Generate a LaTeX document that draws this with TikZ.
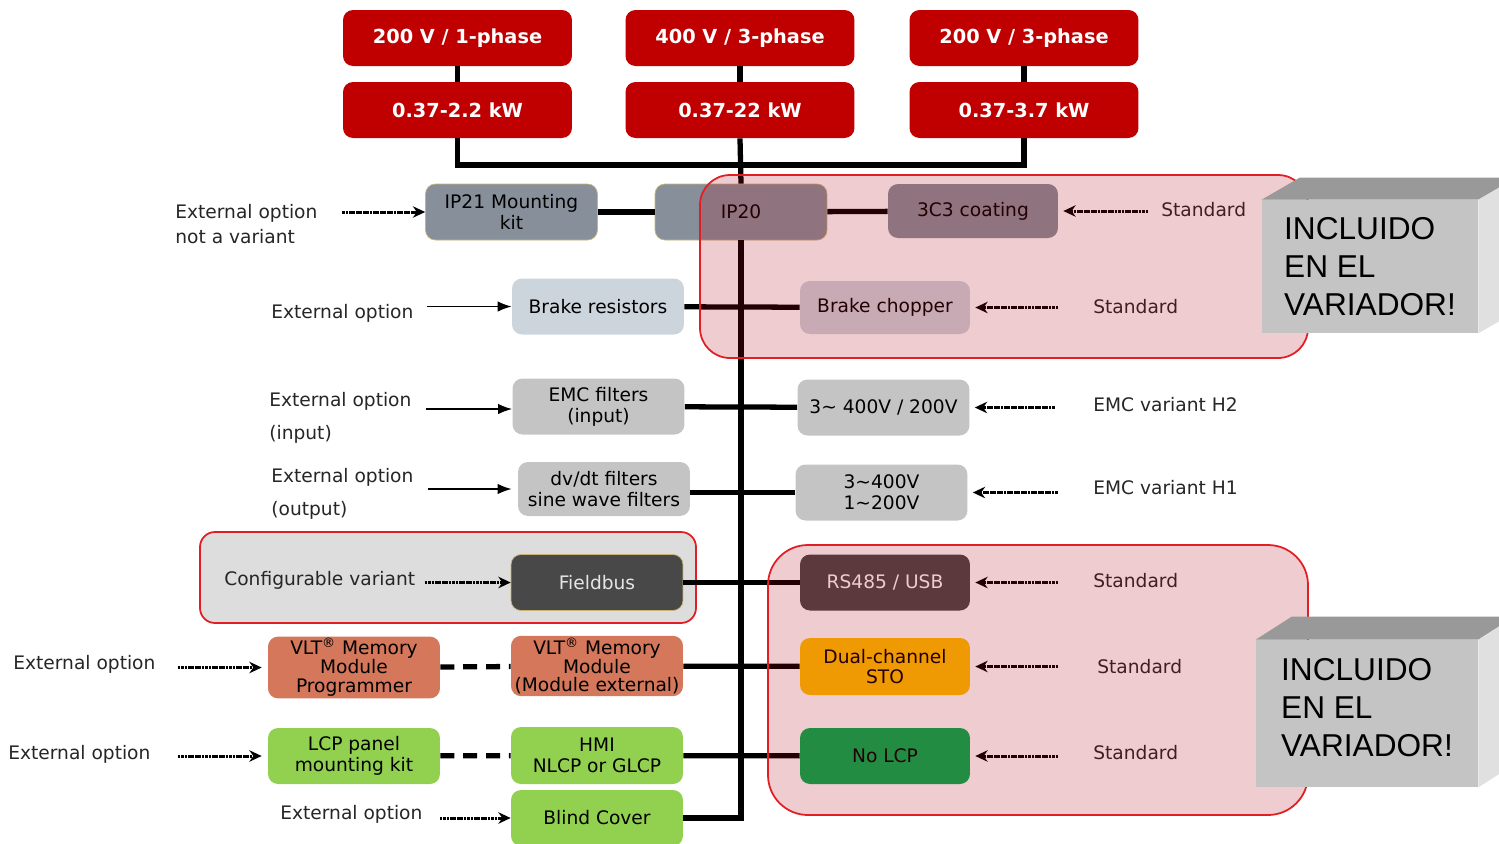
\documentclass[tikz,border=0pt]{standalone}
\usepackage{fontspec}
\setmainfont{DejaVu Sans}
\newfontfamily\arialfont{Liberation Sans}
\usetikzlibrary{arrows, arrows.meta}

\definecolor{drivered}{RGB}{192,0,0}
\definecolor{ipgray}{RGB}{135,144,154}
\definecolor{paleblue}{RGB}{205,213,220}
\definecolor{filtergray}{RGB}{196,196,196}
\definecolor{busgray}{RGB}{72,72,72}
\definecolor{memorange}{RGB}{212,119,91}
\definecolor{lcpgreen}{RGB}{146,208,80}
\definecolor{stogold}{RGB}{255,192,0}
\definecolor{nolcpgreen}{RGB}{0,176,80}
\definecolor{veilred}{RGB}{175,0,15}
\definecolor{framered}{RGB}{225,30,35}
\definecolor{confgray}{RGB}{221,221,221}
\definecolor{tanedge}{RGB}{200,180,120}
\definecolor{incfrontgray}{RGB}{196,196,196}
\definecolor{inctopgray}{RGB}{153,153,153}
\definecolor{incsidegray}{RGB}{224,224,224}

\tikzset{
  powerbox/.style={fill=drivered, rounded corners=0.2cm, minimum width=4.58cm, minimum height=1.12cm,
    text=white, font=\fontsize{11}{13}\selectfont\bfseries},
  optbox/.style={rounded corners=0.2cm, minimum width=3.44cm, minimum height=1.12cm, inner sep=1pt,
    align=center, font=\fontsize{10.6}{11.8}\selectfont},
  optlabel/.style={anchor=west, align=left, inner sep=0pt, text=black!85, font=\fontsize{10.6}{12.5}\selectfont},
  trunk/.style={line width=3pt},
  trunkdash/.style={line width=3pt, dash pattern=on 8pt off 5pt},
  dotarrow/.style={-{Stealth[length=7pt,width=6.5pt]}, line width=1.7pt, dash pattern=on 1.6pt off 0.35pt},
  thinarrow/.style={-{Latex[length=8pt,width=6pt]}, line width=0.9pt},
  veil/.style={fill=veilred, fill opacity=0.2, draw=framered, line width=1pt},
  incfront/.style={fill=incfrontgray, inner sep=0pt, align=left, font=\arialfont\fontsize{18}{21.5}\selectfont},
}

\begin{document}
\begin{tikzpicture}[x=0.02cm, y=-0.02cm]
\useasboundingbox (0,0) rectangle (1499,843);
\clip (0,0) rectangle (1499,843);

\draw[fill=confgray, draw=framered, line width=1pt, rounded corners=0.3cm] (200,532) rectangle (696,623); %configurable frame

% supply and power range
\node[powerbox] (pw1) at (457.5,38) {200 V / 1-phase};
\node[powerbox] (pw2) at (740,38)   {400 V / 3-phase};
\node[powerbox] (pw3) at (1024,38)  {200 V / 3-phase};
\node[powerbox] (kw1) at (457.5,110) {0.37-2.2 kW};
\node[powerbox] (kw2) at (740,110)   {0.37-22 kW};
\node[powerbox] (kw3) at (1024,110)  {0.37-3.7 kW};
\coordinate (bus) at (740,165);

% option boxes
\node[optbox, fill=ipgray, draw=tanedge, line width=0.4pt] (ip21) at (511.5,212) {IP21 Mounting\\kit};
\node[optbox, fill=ipgray, draw=tanedge, line width=0.4pt] (ip20) at (741,212) {IP20};
\node[optbox, fill=ipgray, minimum width=3.4cm, minimum height=1.08cm] (coat) at (973,211) {3C3 coating};
\node[optbox, fill=paleblue] (brakeres) at (598,306.5) {Brake resistors};
\node[optbox, fill=paleblue, minimum width=3.4cm, minimum height=1.06cm] (chopper) at (885,307.5) {Brake chopper};
\node[optbox, fill=filtergray] (emcin) at (598.5,406.5) {EMC filters\\(input)};
\node[optbox, fill=filtergray] (emcH2) at (883.5,407.5) {3\textasciitilde{} 400V / 200V};
\node[optbox, fill=filtergray, minimum height=1.08cm] (dvdt) at (604,489) {dv/dt filters\\sine wave filters};
\node[optbox, fill=filtergray] (emcH1) at (881.5,492.5) {3\textasciitilde400V\\1\textasciitilde200V};
\node[optbox, fill=busgray, draw=tanedge, line width=0.4pt, text=black!10] (fieldbus) at (597,582.5) {Fieldbus};
\node[optbox, fill=busgray, minimum width=3.4cm, text=white] (rs485) at (885,582.5) {RS485 / USB};
\node[optbox, fill=memorange, font=\fontsize{10.6}{10.8}\selectfont] (vltprog) at (354,667.5) {VLT\textsuperscript{®} Memory\\Module\\Programmer};
\node[optbox, fill=memorange, minimum height=1.16cm, font=\fontsize{10.6}{10.8}\selectfont] (vltmod) at (597,666) {VLT\textsuperscript{®} Memory\\Module\\(Module external)};
\node[optbox, fill=stogold, minimum width=3.4cm, minimum height=1.14cm] (sto) at (885,666.5) {Dual-channel\\STO};
\node[optbox, fill=lcpgreen] (lcpkit) at (354,756) {LCP panel\\mounting kit};
\node[optbox, fill=lcpgreen, minimum height=1.14cm] (hmi) at (597,755.5) {HMI\\NLCP or GLCP};
\node[optbox, fill=nolcpgreen, minimum width=3.4cm] (nolcp) at (885,756) {No LCP};
\node[optbox, fill=lcpgreen] (blind) at (597,818) {Blind Cover};

% labels left
\node[optlabel] (extip)    at (175,224) {External option\\[2pt]not a variant};
\node[optlabel] (extbrake) at (271,313) {External option};
\node[optlabel] (extemc)   at (269,418) {External option\\[6.5pt](input)};
\node[optlabel] (extdvdt)  at (271,494) {External option\\[6.5pt](output)};
\node[optlabel] (confvar)  at (224,580) {Configurable variant};
\node[optlabel] (extvlt)   at (13,664)  {External option};
\node[optlabel] (extlcp)   at (8,754)   {External option};
\node[optlabel] (extblind) at (280,814) {External option};

% labels right
\node[optlabel] (stdcoat) at (1161,210) {Standard};
\node[optlabel] (stdchop) at (1093,307) {Standard};
\node[optlabel] (varH2)   at (1093,405) {EMC variant H2};
\node[optlabel] (varH1)   at (1093,488) {EMC variant H1};
\node[optlabel] (stdrs)   at (1093,581) {Standard};
\node[optlabel] (stdsto)  at (1097,667) {Standard};
\node[optlabel] (stdlcp)  at (1093,753) {Standard};

% thick lines
\draw[trunk] (pw1) -- (kw1);
\draw[trunk] (pw2) -- (kw2);
\draw[trunk] (pw3) -- (kw3);
\draw[trunk] (kw1.south) |- (bus) -| (kw3.south); %bus
\draw[trunk] (kw2.south) -- (ip20.north);          %trunk top
\draw[trunk] (ip20.south) |- (blind.east);         %trunk
\draw[trunk] (ip21) -- (ip20);
\draw[trunk] (ip20) -- (coat);
\draw[trunk] (brakeres) -- (chopper);
\draw[trunk] (emcin) -- (emcH2);
\draw[trunk] (emcH1.west) -- (emcH1.west -| dvdt.east);
\draw[trunk] (fieldbus) -- (rs485);
\draw[trunk] (vltmod) -- (sto);
\draw[trunk] (hmi) -- (nolcp);
\draw[trunkdash] (vltprog) -- (vltmod);
\draw[trunkdash] (lcpkit) -- (hmi);

% arrows left
\draw[dotarrow] ([xshift=-1.66cm]ip21.west) -- (ip21.west);
\draw[thinarrow] ([xshift=-1.7cm]brakeres.west) -- (brakeres.west);
\draw[thinarrow] ([xshift=-1.72cm,yshift=-0.05cm]emcin.west) -- ([yshift=-0.05cm]emcin.west);
\draw[thinarrow, shorten >=0.12cm] ([xshift=-1.8cm]dvdt.west) -- (dvdt.west);
\draw[dotarrow] ([xshift=-1.72cm]fieldbus.west) -- (fieldbus.west);
\draw[dotarrow, shorten >=0.12cm] ([xshift=-1.8cm]vltprog.west) -- (vltprog.west);
\draw[dotarrow, shorten >=0.12cm] ([xshift=-1.8cm]lcpkit.west) -- (lcpkit.west);
\draw[dotarrow] ([xshift=-1.42cm]blind.west) -- (blind.west);

% arrows right
\draw[dotarrow, shorten >=0.1cm] ([xshift=1.8cm]coat.east) -- (coat.east);
\draw[dotarrow, shorten >=0.1cm] ([xshift=1.76cm]chopper.east) -- (chopper.east);
\draw[dotarrow, shorten >=0.1cm] ([xshift=1.7cm]emcH2.east) -- (emcH2.east);
\draw[dotarrow, shorten >=0.1cm] ([xshift=1.8cm]emcH1.east) -- (emcH1.east);
\draw[dotarrow, shorten >=0.1cm] ([xshift=1.76cm]rs485.east) -- (rs485.east);
\draw[dotarrow, shorten >=0.1cm] ([xshift=1.76cm]sto.east) -- (sto.east);
\draw[dotarrow, shorten >=0.1cm] ([xshift=1.76cm]nolcp.east) -- (nolcp.east);

% included in drive
\draw[veil, rounded corners=0.6cm] (700,175) rectangle (1308,358);
\draw[veil, rounded corners=0.8cm] (768,545) rectangle (1308,815);

\node[incfront, minimum width=4.32cm, minimum height=2.66cm] (inc1) at (1370,266.5) {INCLUIDO\\EN EL\\VARIADOR!};
\fill[inctopgray] (inc1.north west) -- ([shift={(38,-22)}]inc1.north west) -- ([shift={(38,-22)}]inc1.north east) -- (inc1.north east) -- cycle;
\fill[incsidegray] (inc1.north east) -- ([shift={(38,-22)}]inc1.north east) -- ([shift={(38,-22)}]inc1.south east) -- (inc1.south east) -- cycle;

\node[incfront, minimum width=4.44cm, minimum height=2.94cm] (inc2) at (1367,713.5) {INCLUIDO\\EN EL\\VARIADOR!\\[-14.7pt]};
\fill[inctopgray] (inc2.north west) -- ([shift={(36,-23)}]inc2.north west) -- ([shift={(36,-23)}]inc2.north east) -- (inc2.north east) -- cycle;
\fill[incsidegray] (inc2.north east) -- ([shift={(36,-23)}]inc2.north east) -- ([shift={(36,-23)}]inc2.south east) -- (inc2.south east) -- cycle;
\end{tikzpicture}
\end{document}
